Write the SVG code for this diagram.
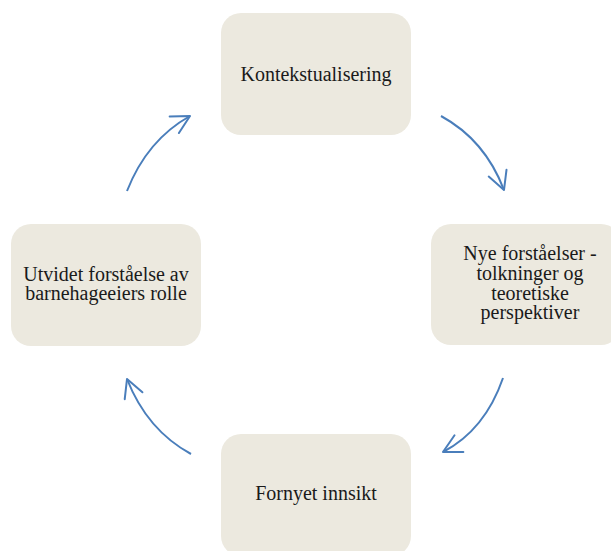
<svg xmlns="http://www.w3.org/2000/svg" width="611" height="551" viewBox="0 0 611 551">
<style>
.box{fill:#ECE9DF;}
.t{font-family:"Liberation Serif","Times New Roman",serif;font-size:20px;fill:#1a1a1a;text-anchor:middle;}
.arr{fill:none;stroke:#4A7EBB;stroke-width:2;marker-end:url(#ah);}
</style>
<defs>
<marker id="ah" markerUnits="userSpaceOnUse" markerWidth="30" markerHeight="30" refX="0" refY="0" viewBox="-22 -15 30 30" orient="auto">
<path d="M-18,-9.5 L0,0 L-18,9.5" fill="none" stroke="#4A7EBB" stroke-width="2" stroke-linecap="round" stroke-linejoin="round"/>
</marker>
</defs>
<rect width="611" height="551" fill="#fff"/>
<g id="n1"><rect class="box" x="221" y="13" width="190" height="122" rx="20"/><text class="t" x="316" y="81">Kontekstualisering</text></g>
<g id="n2"><rect class="box" x="431" y="224" width="190" height="121" rx="20"/><text class="t" x="530"><tspan x="530" y="260">Nye forståelser -</tspan><tspan x="530" y="280">tolkninger og</tspan><tspan x="530" y="299.5">teoretiske</tspan><tspan x="530" y="319">perspektiver</tspan></text></g>
<g id="n3"><rect class="box" x="221" y="434" width="190" height="122" rx="20"/><text class="t" x="316" y="500">Fornyet innsikt</text></g>
<g id="n4"><rect class="box" x="11" y="224" width="190" height="122" rx="20"/><text class="t" x="106"><tspan x="106" y="281">Utvidet forståelse av</tspan><tspan x="106" y="300">barnehageeiers rolle</tspan></text></g>
<g id="connectors">
<path class="arr" d="M441,116 Q485,140 504,190"/>
<path class="arr" d="M503,378 Q485,430 443,452"/>
<path class="arr" d="M191,454 Q147,430 127,379"/>
<path class="arr" d="M127,191 Q147,140 190,116"/>
</g>
</svg>
